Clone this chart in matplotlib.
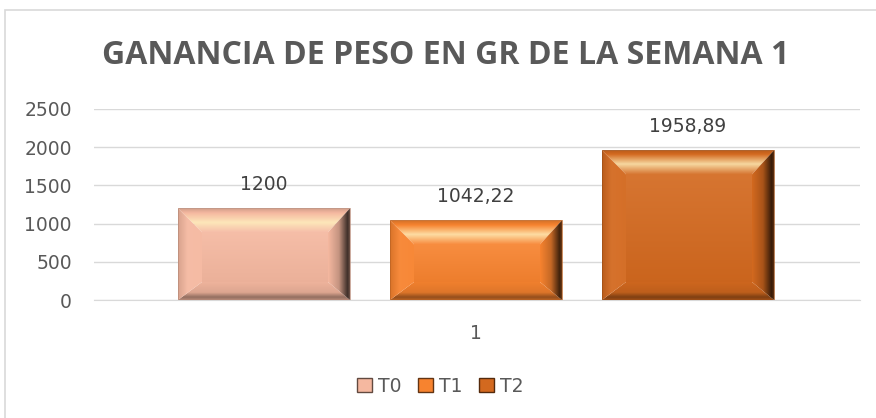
import matplotlib
matplotlib.use('Agg')
import matplotlib.pyplot as plt
import numpy as np
from matplotlib.patches import Polygon, Rectangle, Patch
from matplotlib.colors import to_rgb

# datos
series = ['T0', 'T1', 'T2']
valores = [1200, 1042.22, 1958.89]
etiquetas = ['1200', '1042,22', '1958,89']
categoria = '1'
colores = ['#F5B8A0', '#F7832F', '#D3691F']

W, H = 876, 418
fig = plt.figure(figsize=(W / 100, H / 100), dpi=100)

# borde del grafico (solo se ven arriba y a la izquierda)
fig.add_artist(Rectangle((5 / W, -0.1), 1.2, 1 - 10 / H + 0.1, transform=fig.transFigure,
                         facecolor='none', edgecolor='#D9D9D9', linewidth=1.2))

# area de trazado en pixeles
x0, x1, y0, y1 = 94, 860, 300, 109
ax = fig.add_axes([x0 / W, 1 - y0 / H, (x1 - x0) / W, (y0 - y1) / H])

paso = 212.0
centro = 476
ax.set_xlim((x0 - centro) / paso, (x1 - centro) / paso)
ax.set_ylim(0, 2500)
ax.set_yticks(np.arange(0, 2501, 500))
ax.yaxis.grid(True, color='#D9D9D9', linewidth=1)
ax.set_axisbelow(True)
for s in ['top', 'right', 'left']:
    ax.spines[s].set_visible(False)
ax.spines['bottom'].set_color('#D9D9D9')
ax.tick_params(axis='y', length=0, labelsize=13.5, labelcolor='#595959', pad=16)
ax.set_xticks([0])
ax.set_xticklabels([categoria])
ax.tick_params(axis='x', length=0, labelsize=13.5, labelcolor='#595959', pad=17)

ancho = 172 / paso
px_x = paso
px_y = (y0 - y1) / 2500.0


def mezcla(c, otro, f):
    c = np.array(to_rgb(c))
    o = np.array(to_rgb(otro))
    return tuple(c * (1 - f) + o * f)


def gradiente(poly, paradas, vertical=True, z=3):
    # paradas: (posicion, color); vertical -> de arriba a abajo, si no de izq a der
    xs = [p[0] for p in poly]
    ys = [p[1] for p in poly]
    t = np.linspace(0, 1, 96)
    pos = [p for p, _ in paradas]
    cols = np.array([to_rgb(c) for _, c in paradas])
    col = np.stack([np.interp(t, pos, cols[:, k]) for k in range(3)], axis=1)
    img = col[:, None, :] if vertical else col[None, :, :]
    im = ax.imshow(img, extent=[min(xs), max(xs), min(ys), max(ys)],
                   origin='upper' if vertical else 'lower', aspect='auto', zorder=z,
                   interpolation='bilinear')
    pg = Polygon(poly, closed=True, facecolor='none', edgecolor='none')
    ax.add_patch(pg)
    im.set_clip_path(pg)


xs = np.arange(len(series)) - 1
for xc, v, c, lab in zip(xs, valores, colores, etiquetas):
    l, r = xc - ancho / 2, xc + ancho / 2
    b, t = 0, v
    il, ir = l + 24 / px_x, r - 22 / px_x
    ib, it = b + 18 / px_y, t - 24 / px_y
    # cara central
    gradiente([(il, ib), (ir, ib), (ir, it), (il, it)],
              [(0, mezcla(c, 'white', 0.08)), (1, mezcla(c, 'black', 0.04))])
    # bisel superior
    gradiente([(l, t), (r, t), (ir, it), (il, it)],
              [(0, mezcla(c, 'black', 0.15)), (0.2, c), (0.6, mezcla(c, '#FFF3C0', 0.8)),
               (1, mezcla(c, 'white', 0.1))])
    # bisel inferior
    gradiente([(l, b), (r, b), (ir, ib), (il, ib)],
              [(0, mezcla(c, 'black', 0.02)), (0.6, mezcla(c, 'black', 0.1)),
               (0.85, mezcla(c, 'black', 0.4)), (1, mezcla(c, 'black', 0.25))])
    # bisel izquierdo
    gradiente([(l, b), (il, ib), (il, it), (l, t)],
              [(0, mezcla(c, 'black', 0.12)), (0.4, mezcla(c, 'white', 0.06)),
               (1, mezcla(c, 'white', 0.04))], vertical=False)
    # bisel derecho
    gradiente([(r, b), (ir, ib), (ir, it), (r, t)],
              [(0, c), (0.5, mezcla(c, 'black', 0.2)), (0.9, mezcla(c, 'black', 0.75)),
               (1, mezcla(c, 'black', 0.55))], vertical=False)
    ax.add_patch(Rectangle((l, b), r - l, t - b, facecolor='none',
                           edgecolor=mezcla(c, 'black', 0.25), linewidth=0.5, zorder=4))
    ax.annotate(lab, (xc, v), xytext=(0, 13), textcoords='offset points',
                ha='center', va='baseline', fontsize=13.5, color='#404040')

fig.text(446 / W, 1 - 55 / H, 'GANANCIA DE PESO EN GR DE LA SEMANA 1', ha='center',
         va='center', fontsize=23, fontweight='bold', color='#595959', family='Open Sans')

# leyenda
handles = [Patch(facecolor=c, edgecolor=mezcla(c, 'black', 0.6), label=s)
           for s, c in zip(series, colores)]
fig.legend(handles=handles, loc='center', bbox_to_anchor=(440 / W, 1 - 386 / H), ncol=3,
           frameon=False, fontsize=13.5, labelcolor='#595959', handlelength=0.8,
           handleheight=0.8, handletextpad=0.3, columnspacing=0.9)

plt.savefig('out.png', dpi=100)
